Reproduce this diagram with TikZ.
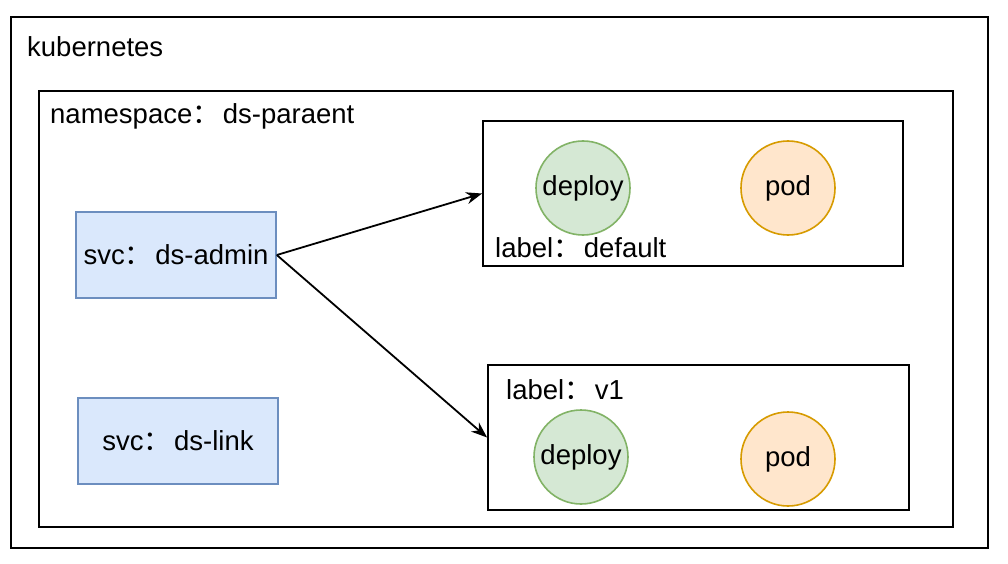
\documentclass[tikz,border=0pt]{standalone}
\usepackage{fontspec}
\setmainfont{Liberation Sans}
\newfontfamily\cjk{Noto Sans CJK SC}
\usetikzlibrary{arrows.meta}
\newcommand{\fwc}{{\cjk ：}\hspace{3pt}}
\definecolor{svcfill}{HTML}{DAE8FC}
\definecolor{svcline}{HTML}{6C8EBF}
\definecolor{depfill}{HTML}{D5E8D4}
\definecolor{depline}{HTML}{82B366}
\definecolor{podfill}{HTML}{FFE6CC}
\definecolor{podline}{HTML}{D79B00}
\begin{document}
\begin{tikzpicture}[x=1pt,y=-1pt,
  every node/.style={font=\fontsize{27.5}{32}\selectfont, inner sep=0pt},
  frame/.style={draw=black, line width=1.8pt},
  svcbox/.style={draw=svcline, fill=svcfill, line width=1.6pt, minimum width=200pt, minimum height=86pt},
  depcirc/.style={circle, draw=depline, fill=depfill, line width=1.6pt, minimum size=94pt},
  podcirc/.style={circle, draw=podline, fill=podfill, line width=1.6pt, minimum size=94pt},
  arr/.style={draw=black, line width=1.8pt, -{Stealth[length=16pt,width=12pt]}}
]
\useasboundingbox (0,0) rectangle (1008,564);
\fill[white] (0,0) rectangle (1008,564);
\draw[frame] (11,17) rectangle (988,548);
\node[anchor=base west] (kt) at (27,57) {kubernetes};
\draw[frame] (39,91) rectangle (953,527);
\node[anchor=base west] (nt) at (50,124) {namespace\fwc ds-paraent};
\node[frame, minimum width=420pt, minimum height=145pt] (boxa) at (693,193.5) {};
\node[frame, minimum width=421pt, minimum height=145pt] (boxb) at (698.5,437.5) {};
\node[svcbox] (admin) at (176,255) {svc\fwc ds-admin};
\node[svcbox] (link) at (178,441) {svc\fwc ds-link};
\node[depcirc] (d1) at (583,188) {deploy};
\node[podcirc] (p1) at (788,188) {pod};
\node[anchor=base west] (la) at (495,257) {label\fwc default};
\node[anchor=base west] (lb) at (506,399) {label\fwc v1};
\node[depcirc] (d2) at (581,457) {deploy};
\node[podcirc] (p2) at (788,459) {pod};
\draw[arr] (admin.east) -- (boxa.west);
\draw[arr] (admin.east) -- (boxb.west);
\end{tikzpicture}
\end{document}
